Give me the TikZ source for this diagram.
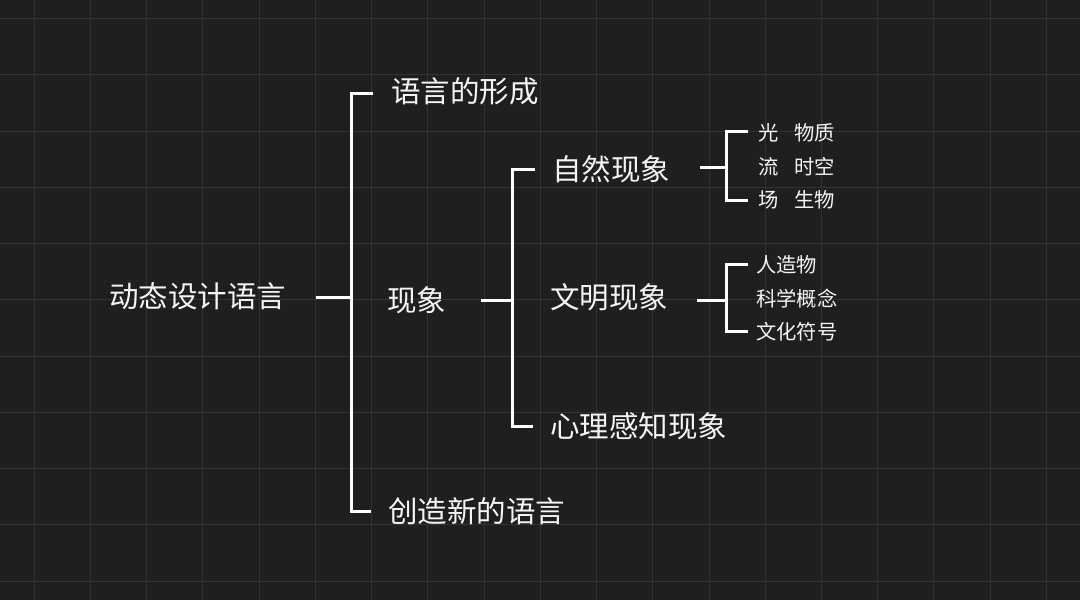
\documentclass[tikz,border=0pt]{standalone}
\usepackage{fontspec}
\setmainfont{Noto Sans CJK SC}
\begin{document}
\begin{tikzpicture}[x=1pt,y=-1pt,
  big/.style={anchor=west,inner sep=0pt,text=txtc,font=\fontsize{29.5}{31}\selectfont},
  small/.style={anchor=west,inner sep=0pt,text=txtc,font=\fontsize{20.3}{22}\selectfont},
  br/.style={draw=white,line width=3pt,line join=miter,line cap=butt}]
\definecolor{bgc}{HTML}{1F1F21}
\definecolor{gridc}{HTML}{323235}
\definecolor{txtc}{HTML}{F5F5F5}
\fill[bgc] (0,0) rectangle (1080,600);
\useasboundingbox (0,0) rectangle (1080,600);
% grid
\foreach \k in {0,...,18} {
  \draw[gridc,line width=1pt] ({34.3+56.23*\k},0) -- ({34.3+56.23*\k},600);
}
\foreach \k in {0,...,10} {
  \draw[gridc,line width=1pt] (0,{18.5+56.25*\k}) -- (1080,{18.5+56.25*\k});
}
% texts
\node[big] (root) at (109,296) {动态设计语言};
\node[big] (lang) at (391,91) {语言的形成};
\node[big] (phen) at (387,300) {现象};
\node[big] (create) at (388,511) {创造新的语言};
\node[big] (nat) at (552,169) {自然现象};
\node[big] (civ) at (550,297) {文明现象};
\node[big] (psy) at (550,426) {心理感知现象};
\node[small] (n1) at (758,133) {光\hspace{0.77em}物质};
\node[small] (n2) at (758,166.5) {流\hspace{0.77em}时空};
\node[small] (n3) at (758,200) {场\hspace{0.77em}生物};
\node[small] (c1) at (756,265) {人造物};
\node[small] (c2) at (756,298.5) {科学概念};
\node[small] (c3) at (756,332) {文化符号};
% bracket 1
\coordinate (s1) at (316,297);
\coordinate (j1) at (351,297);
\coordinate (t1) at (351,93);
\coordinate (t1e) at (373,93);
\coordinate (b1) at (351,511.7);
\coordinate (b1e) at (371,511.7);
\draw[br] (s1) -- (j1);
\draw[br] (t1e) -- (t1) -- (b1) -- (b1e);
% bracket 2
\coordinate (s2) at (480.7,300);
\coordinate (j2) at (512.5,300);
\coordinate (t2) at (512.5,169);
\coordinate (t2e) at (535,169);
\coordinate (b2) at (512.5,426);
\coordinate (b2e) at (532.5,426);
\draw[br] (s2) -- (j2);
\draw[br] (t2e) -- (t2) -- (b2) -- (b2e);
% bracket 3
\coordinate (s3) at (700,167.3);
\coordinate (j3) at (726.7,167.3);
\coordinate (t3) at (726.7,131.7);
\coordinate (t3e) at (748.3,131.7);
\coordinate (b3) at (726.7,200);
\coordinate (b3e) at (748.3,200);
\draw[br] (s3) -- (j3);
\draw[br] (t3e) -- (t3) -- (b3) -- (b3e);
% bracket 4
\coordinate (s4) at (697.3,300);
\coordinate (j4) at (726.3,300);
\coordinate (t4) at (726.3,264.3);
\coordinate (t4e) at (748,264.3);
\coordinate (b4) at (726.3,331.7);
\coordinate (b4e) at (748,331.7);
\draw[br] (s4) -- (j4);
\draw[br] (t4e) -- (t4) -- (b4) -- (b4e);
\end{tikzpicture}
\end{document}
